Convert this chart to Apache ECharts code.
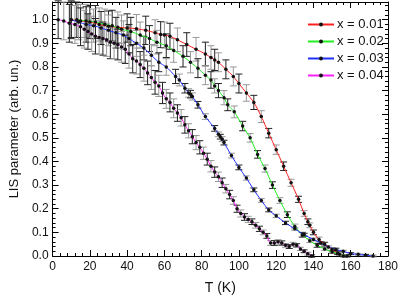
<!DOCTYPE html>
<html>
<head>
<meta charset="utf-8">
<script src="https://cdn.jsdelivr.net/npm/echarts@6/dist/echarts.min.js"></script>
<style>
  html, body { margin: 0; padding: 0; background: #fff; }
  #chart { width: 401px; height: 300px; }
</style>
</head>
<body>
<div id="chart"></div>
<script>
// ========= 数据 =========
const seriesNames = ["x = 0.01", "x = 0.02", "x = 0.03", "x = 0.04"];
const seriesColors = ["#ff2020", "#22ee22", "#2030ff", "#ff20ff"];

// x = 0.01
const tRed = [10, 15, 20, 25, 30, 35, 40, 45, 50, 55, 58, 60, 63, 67, 72, 77, 82, 85, 87, 89, 93, 97, 100, 104, 108, 112, 116, 120, 124, 128, 132, 135, 137, 138, 140, 143, 146, 150, 153, 156];
const vRed = [1.0, 0.995, 0.99, 0.98, 0.972, 0.968, 0.965, 0.962, 0.955, 0.945, 0.937, 0.935, 0.93, 0.915, 0.895, 0.875, 0.855, 0.84, 0.83, 0.82, 0.79, 0.76, 0.73, 0.69, 0.65, 0.59, 0.52, 0.45, 0.38, 0.31, 0.24, 0.18, 0.145, 0.13, 0.1, 0.07, 0.05, 0.028, 0.012, 0.0];
const eRed = [0.075, 0.07, 0.07, 0.07, 0.065, 0.065, 0.06, 0.06, 0.06, 0.055, 0.055, 0.055, 0.055, 0.05, 0.05, 0.05, 0.05, 0.05, 0.045, 0.04, 0.04, 0.04, 0.04, 0.035, 0.03, 0.025, 0.02, 0.02, 0.018, 0.015, 0.013, 0.012, 0.012, 0.01, 0.01, 0.01, 0.008, 0.008, 0.006, 0.005];

// x = 0.02
const tGreen = [13, 18, 23, 28, 32, 37, 42, 47, 52, 56, 61, 65, 70, 74, 78, 82, 85, 87, 89, 92, 94, 97.5, 102, 106, 110, 114, 118, 122, 126, 130, 134, 138, 142, 146, 150, 154, 158];
const vGreen = [1.0, 0.995, 0.99, 0.98, 0.975, 0.96, 0.95, 0.935, 0.92, 0.905, 0.89, 0.87, 0.845, 0.82, 0.795, 0.765, 0.745, 0.72, 0.7, 0.67, 0.64, 0.61, 0.55, 0.5, 0.43, 0.37, 0.3, 0.235, 0.175, 0.125, 0.09, 0.065, 0.045, 0.03, 0.018, 0.007, 0.0];
const eGreen = [0.075, 0.07, 0.07, 0.065, 0.065, 0.06, 0.06, 0.055, 0.055, 0.05, 0.05, 0.05, 0.045, 0.045, 0.04, 0.04, 0.035, 0.03, 0.03, 0.03, 0.025, 0.025, 0.02, 0.018, 0.016, 0.015, 0.014, 0.012, 0.012, 0.01, 0.01, 0.008, 0.008, 0.006, 0.006, 0.005, 0.004];

// x = 0.03
const tBlue = [10, 14, 18, 22, 26, 30, 34, 38, 41, 45, 49, 53, 57, 61, 66, 68, 71, 73, 74, 75, 78, 82, 87, 89, 90, 91, 92, 96, 100, 104, 108, 112, 116, 120, 125, 130, 135, 140, 144, 148, 152, 156, 160, 164, 168, 172];
const vBlue = [1.0, 0.99, 0.98, 0.975, 0.965, 0.955, 0.945, 0.935, 0.92, 0.9, 0.88, 0.85, 0.82, 0.8, 0.76, 0.745, 0.71, 0.69, 0.685, 0.675, 0.64, 0.59, 0.54, 0.515, 0.505, 0.495, 0.48, 0.425, 0.375, 0.33, 0.28, 0.235, 0.195, 0.17, 0.14, 0.115, 0.09, 0.07, 0.055, 0.038, 0.028, 0.02, 0.01, 0.007, 0.003, 0.0];
const eBlue = [0.08, 0.075, 0.075, 0.07, 0.07, 0.065, 0.065, 0.06, 0.06, 0.055, 0.05, 0.045, 0.04, 0.035, 0.03, 0.025, 0.02, 0.018, 0.016, 0.015, 0.014, 0.012, 0.012, 0.01, 0.01, 0.01, 0.01, 0.01, 0.01, 0.009, 0.008, 0.008, 0.008, 0.007, 0.007, 0.006, 0.006, 0.006, 0.005, 0.005, 0.005, 0.004, 0.004, 0.004, 0.004, 0.004];

// x = 0.04
const tMag = [3, 6, 9, 12, 15, 17, 19, 21, 23, 25, 27, 29, 31, 33, 35, 37, 39, 41, 43, 45, 47, 49, 51, 53, 55, 57, 59, 61, 63, 65, 67, 69, 71, 73, 75, 77, 79, 81, 83, 85, 87, 89, 91, 93, 95, 97, 99, 101, 103, 105, 107, 109, 111, 113, 115, 117, 119, 121, 123, 125, 127, 129, 131, 133, 135, 137, 139];
const vMag = [1.0, 0.995, 0.985, 0.98, 0.97, 0.96, 0.95, 0.94, 0.93, 0.925, 0.92, 0.915, 0.905, 0.9, 0.895, 0.885, 0.875, 0.855, 0.835, 0.825, 0.81, 0.795, 0.775, 0.755, 0.735, 0.72, 0.69, 0.665, 0.65, 0.625, 0.605, 0.585, 0.555, 0.53, 0.505, 0.48, 0.46, 0.435, 0.41, 0.38, 0.355, 0.335, 0.31, 0.285, 0.26, 0.235, 0.2, 0.18, 0.165, 0.155, 0.145, 0.13, 0.115, 0.1, 0.085, 0.055, 0.055, 0.06, 0.055, 0.045, 0.04, 0.05, 0.045, 0.03, 0.02, 0.01, 0.0];
const eMag = [0.08, 0.08, 0.08, 0.08, 0.08, 0.08, 0.075, 0.075, 0.075, 0.07, 0.07, 0.07, 0.07, 0.065, 0.065, 0.065, 0.06, 0.06, 0.06, 0.055, 0.055, 0.055, 0.05, 0.05, 0.05, 0.045, 0.045, 0.04, 0.04, 0.04, 0.035, 0.035, 0.035, 0.03, 0.03, 0.03, 0.028, 0.026, 0.025, 0.024, 0.022, 0.02, 0.02, 0.018, 0.018, 0.016, 0.015, 0.015, 0.014, 0.013, 0.012, 0.012, 0.011, 0.01, 0.01, 0.01, 0.01, 0.009, 0.009, 0.008, 0.008, 0.008, 0.007, 0.007, 0.006, 0.006, 0.005];

// x 轴 / y 轴刻度
const xTicks = [0, 20, 40, 60, 80, 100, 120, 140, 160, 180];
const yTicks = [0.0, 0.1, 0.2, 0.3, 0.4, 0.5, 0.6, 0.7, 0.8, 0.9, 1.0];

const allT = [tRed, tGreen, tBlue, tMag];
const allV = [vRed, vGreen, vBlue, vMag];
const allE = [eRed, eGreen, eBlue, eMag];

// ========= 图表 =========
const chart = echarts.init(document.getElementById("chart"));
const font = "'Liberation Sans', Arial, sans-serif";

function errorBarSeries(idx) {
    const data = allT[idx].map((t, i) => [t, allV[idx][i] - allE[idx][i], allV[idx][i] + allE[idx][i]]);
    return {
        type: "custom",
        name: "err" + idx,
        silent: true,
        z: 1,
        data,
        renderItem: (params, api) => {
            const x = api.value(0);
            const lo = api.coord([x, api.value(1)]);
            const hi = api.coord([x, api.value(2)]);
            const w = 3.5;
            const col = params.dataIndex % 2 === 0 ? "#222" : "#999";
            const style = { stroke: col, lineWidth: 1 };
            return {
                type: "group",
                children: [
                    { type: "line", shape: { x1: lo[0], y1: lo[1], x2: hi[0], y2: hi[1] }, style },
                    { type: "line", shape: { x1: lo[0] - w, y1: lo[1], x2: lo[0] + w, y2: lo[1] }, style },
                    { type: "line", shape: { x1: hi[0] - w, y1: hi[1], x2: hi[0] + w, y2: hi[1] }, style }
                ]
            };
        }
    };
}

function lineSeries(idx) {
    return {
        type: "line",
        name: seriesNames[idx],
        z: 3,
        smooth: 0.3,
        symbol: "circle",
        symbolSize: 3.5,
        showSymbol: true,
        data: allT[idx].map((t, i) => [t, allV[idx][i]]),
        itemStyle: { color: "#111" },
        lineStyle: { color: seriesColors[idx], width: 1 },
        emphasis: { disabled: true }
    };
}

const axisCommon = {
    min: 0,
    axisLine: { show: true, onZero: false, lineStyle: { color: "#000", width: 1 } },
    axisTick: { show: true, inside: true, length: 6, lineStyle: { color: "#000" } },
    minorTick: { show: true, splitNumber: 5, length: 3, lineStyle: { color: "#000" } },
    splitLine: { show: false },
    minorSplitLine: { show: false }
};

chart.setOption({
    animation: false,
    backgroundColor: "#fff",
    grid: { left: 38, right: 12, top: 2, bottom: 41 },
    legend: {
        data: seriesNames,
        orient: "vertical",
        left: 302,
        top: 13,
        itemWidth: 26,
        itemHeight: 5,
        itemGap: 4,
        textStyle: { fontFamily: font, fontSize: 13, color: "#111", padding: [0, 0, 0, -2] },
        selectedMode: false
    },
    xAxis: [
        Object.assign({}, axisCommon, {
            type: "value", max: 180, interval: 20, position: "bottom",
            name: "T (K)", nameLocation: "middle", nameGap: 25,
            nameTextStyle: { fontFamily: font, fontSize: 14, color: "#111" },
            axisLabel: {
                fontFamily: font, fontSize: 12, color: "#111", margin: 5,
                formatter: v => xTicks.includes(v) ? String(v) : ""
            }
        }),
        Object.assign({}, axisCommon, {
            type: "value", max: 180, interval: 20, position: "top",
            axisLabel: { show: false }
        })
    ],
    yAxis: [
        Object.assign({}, axisCommon, {
            type: "value", max: 1.075, interval: 0.1, position: "left",
            name: "LIS parameter (arb. un.)", nameLocation: "middle", nameGap: 22,
            nameTextStyle: { fontFamily: font, fontSize: 13, color: "#111" },
            axisLabel: {
                fontFamily: font, fontSize: 12, color: "#111", margin: 4, showMaxLabel: false,
                formatter: v => {
                    const r = Math.round(v * 10) / 10;
                    return yTicks.includes(r) && Math.abs(r - v) < 1e-6 ? r.toFixed(1) : "";
                }
            }
        }),
        Object.assign({}, axisCommon, {
            type: "value", max: 1.075, interval: 0.1, position: "right",
            axisLabel: { show: false }
        })
    ],
    series: [
        errorBarSeries(0), errorBarSeries(1), errorBarSeries(2), errorBarSeries(3),
        lineSeries(0), lineSeries(1), lineSeries(2), lineSeries(3)
    ]
});
</script>
</body>
</html>
